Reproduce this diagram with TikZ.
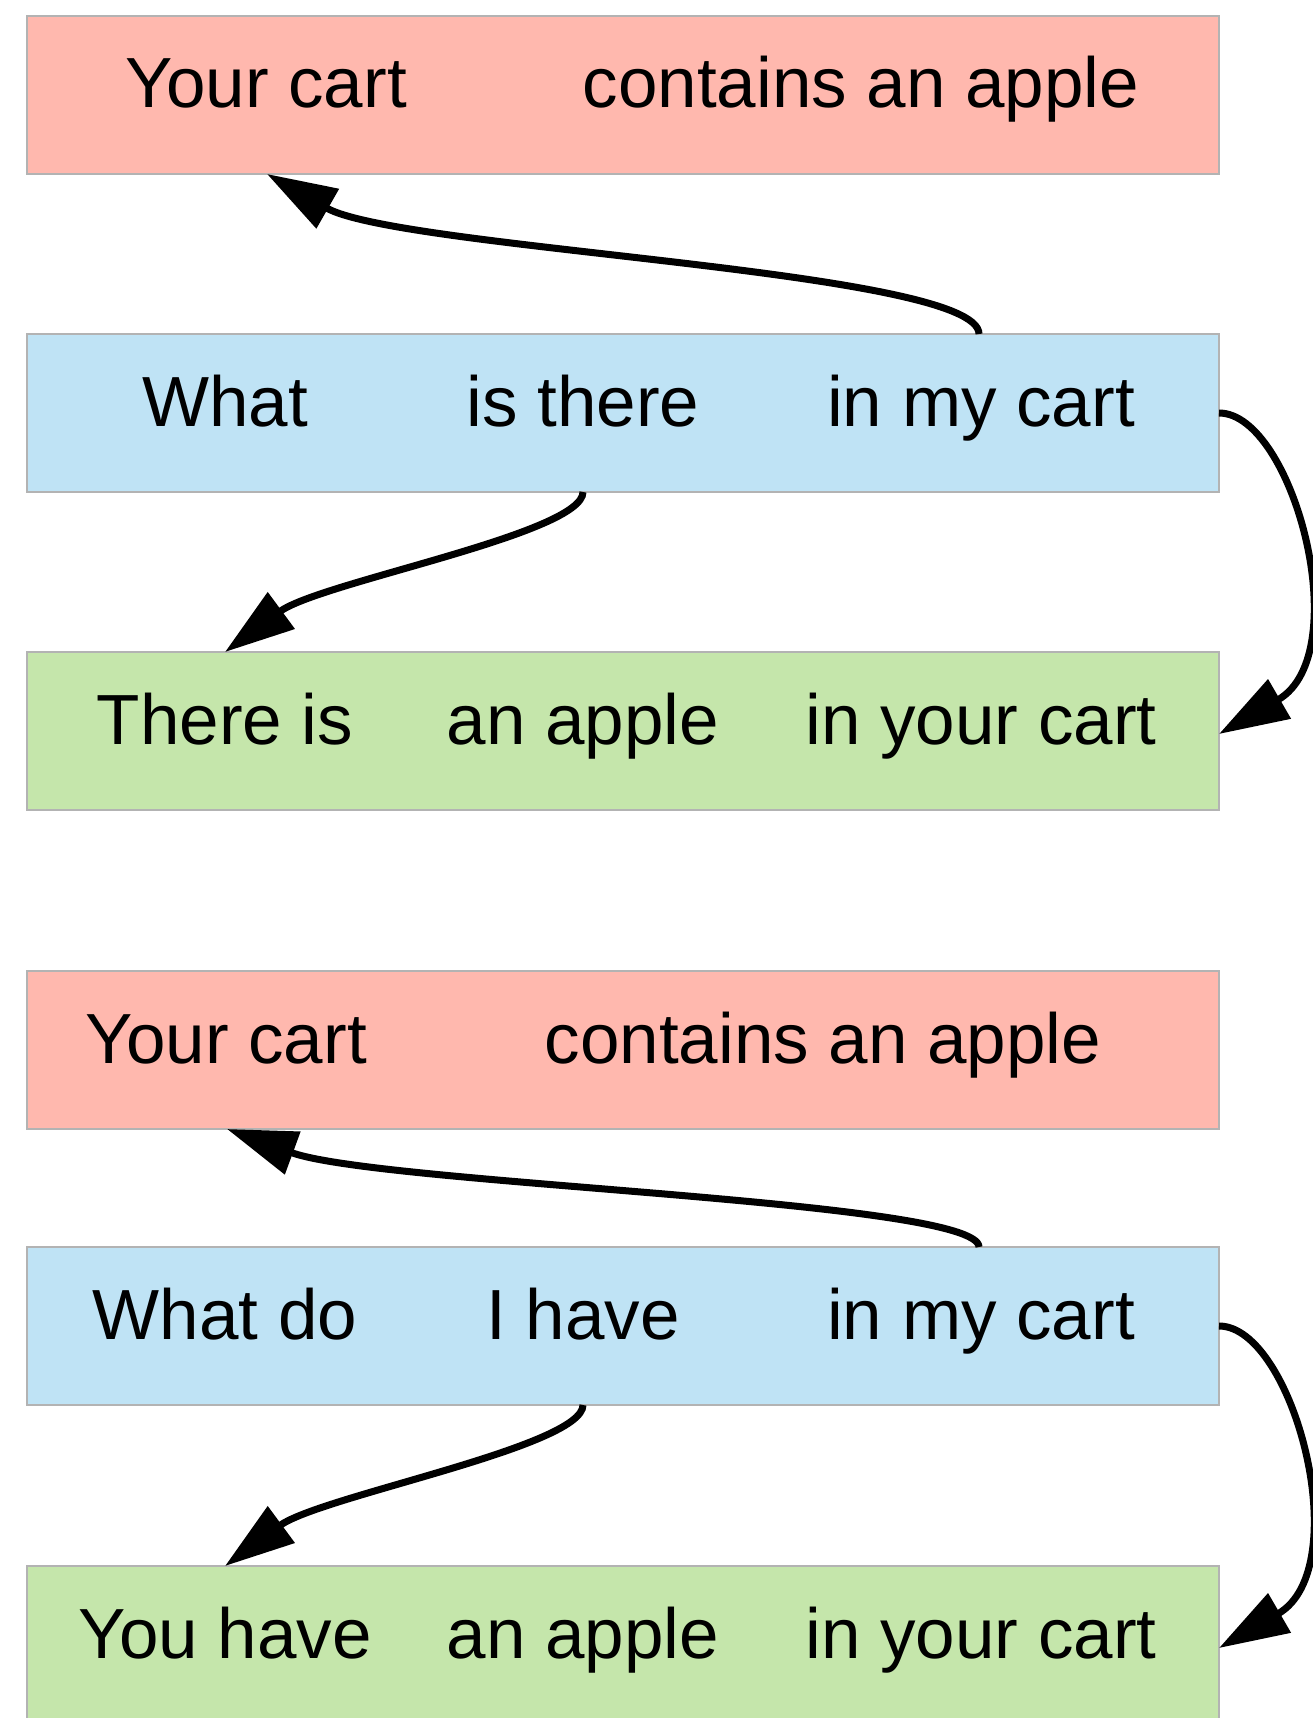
\documentclass[tikz,border=0pt]{standalone}
\usepackage{fontspec}
\setmainfont{Liberation Sans}
\usetikzlibrary{arrows.meta}
\definecolor{boxred}{HTML}{FFB8AE}
\definecolor{boxblue}{HTML}{BFE3F5}
\definecolor{boxgreen}{HTML}{C5E6AB}
\definecolor{boxedge}{HTML}{B3B3B3}
\begin{document}
\begin{tikzpicture}[x=1pt,y=-1pt,
  box/.style={rectangle, draw=boxedge, line width=1.2pt, inner sep=0pt, outer sep=0pt,
              minimum width=1192pt, minimum height=158pt, anchor=north west},
  redbox/.style={box, fill=boxred},
  bluebox/.style={box, fill=boxblue},
  greenbox/.style={box, fill=boxgreen},
  word/.style={anchor=base, inner sep=0pt, font=\fontsize{71}{85}\selectfont},
  conn/.style={line width=7pt, -{Triangle[length=70pt,width=44pt]}}]
\useasboundingbox (0,0) rectangle (1313,1718);
\clip (0,0) rectangle (1313,1718);

% first example
\node[redbox]   (r1) at (27,16)  {};
\node[bluebox]  (b1) at (27,334) {};
\node[greenbox] (g1) at (27,652) {};

\node[word] (r1a) at (266,108) {Your cart};
\node[word] (r1b) at (861,108) {contains an apple};
\node[word] (b1a) at (225,426) {What};
\node[word] (b1b) at (583,426) {is there};
\node[word] (b1c) at (981,426) {in my cart};
\node[word] (g1a) at (225,744) {There is};
\node[word] (g1b) at (583,744) {an apple};
\node[word] (g1c) at (981,744) {in your cart};

% second example
\node[redbox]   (r2) at (27,971)  {};
\node[bluebox]  (b2) at (27,1247) {};
\node[greenbox] (g2) at (27,1566) {};

\node[word] (r2a) at (226,1063) {Your cart};
\node[word] (r2b) at (823,1063) {contains an apple};
\node[word] (b2a) at (225,1339) {What do};
\node[word] (b2b) at (583,1339) {I have};
\node[word] (b2c) at (981,1339) {in my cart};
\node[word] (g2a) at (225,1658) {You have};
\node[word] (g2b) at (583,1658) {an apple};
\node[word] (g2c) at (981,1658) {in your cart};

% connectors, first example
\draw[conn] ([xshift=952pt]b1.north west) .. controls +(0,-64) and +(133,76) .. ([xshift=240pt]r1.south west);
\draw[conn] ([xshift=556pt]b1.south west) .. controls +(0,42) and +(95,-70) .. ([xshift=198pt]g1.north west);
\draw[conn] (b1.east) .. controls +(74,0) and +(138,-80) .. ([yshift=-3pt]g1.east);

% connectors, second example
\draw[conn] ([xshift=952pt]b2.north west) .. controls +(0,-47) and +(153,56) .. ([xshift=200pt]r2.south west);
\draw[conn] ([xshift=556pt]b2.south west) .. controls +(0,42) and +(95,-70) .. ([xshift=198pt]g2.north west);
\draw[conn] (b2.east) .. controls +(74,0) and +(138,-80) .. ([yshift=-3pt]g2.east);
\end{tikzpicture}
\end{document}
